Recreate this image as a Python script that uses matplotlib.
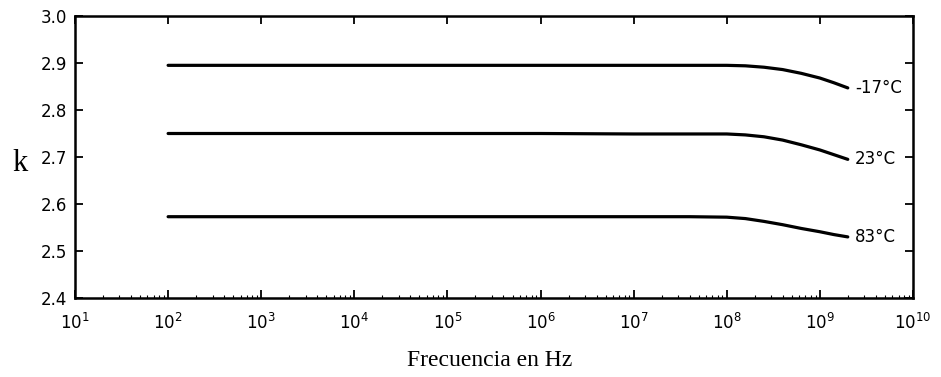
import numpy as np
import matplotlib
matplotlib.use("Agg")
import matplotlib.pyplot as plt
import matplotlib.ticker as ticker

# constante dielectrica k frente a frecuencia, tres temperaturas
log_f = [2, 3, 4, 5, 6, 7, 7.6, 8.0, 8.2, 8.4, 8.6, 8.8, 9.0, 9.15, 9.3]
k_m17 = [2.895, 2.895, 2.895, 2.895, 2.895, 2.895, 2.895, 2.895, 2.894, 2.891, 2.886, 2.878, 2.868, 2.858, 2.847]
k_23 = [2.750, 2.750, 2.750, 2.750, 2.750, 2.749, 2.749, 2.749, 2.747, 2.743, 2.736, 2.726, 2.715, 2.705, 2.695]
k_83 = [2.573, 2.573, 2.573, 2.573, 2.573, 2.573, 2.573, 2.572, 2.569, 2.563, 2.556, 2.548, 2.541, 2.535, 2.530]
labels = ["-17°C", "23°C", "83°C"]

freq = 10.0 ** np.array(log_f)

plt.rcParams['mathtext.default'] = 'regular'
fig = plt.figure(figsize=(9.41, 3.77), dpi=100)
ax = fig.add_axes([0.0797, 0.2095, 0.8905, 0.7481])

for yy, lab in zip([k_m17, k_23, k_83], labels):
    ax.plot(freq, yy, color='black', lw=2.3, solid_capstyle='round', solid_joinstyle='round')
    ax.text(freq[-1] * 1.2, yy[-1], lab, fontsize=12, family='DejaVu Sans',
            va='center', ha='left')

ax.set_xscale('log')
ax.set_xlim(1e1, 1e10)
ax.set_ylim(2.4, 3.0)
ax.set_yticks(np.arange(2.4, 3.01, 0.1))
ax.yaxis.set_major_formatter(ticker.FormatStrFormatter('%.1f'))
ax.xaxis.set_major_locator(ticker.FixedLocator([10.0 ** e for e in range(1, 11)]))
ax.xaxis.set_major_formatter(ticker.LogFormatterMathtext())
minors = [m * 10.0 ** e for e in range(1, 10) for m in range(2, 10)]
ax.xaxis.set_minor_locator(ticker.FixedLocator(minors))
ax.xaxis.set_minor_formatter(ticker.NullFormatter())

ax.tick_params(axis='both', which='major', direction='in', length=6, width=1.3,
               top=True, right=True, labelsize=12, pad=6)
ax.tick_params(axis='x', which='major', pad=11)
ax.tick_params(axis='x', which='minor', direction='in', length=2, width=0.8, top=False)
for s in ax.spines.values():
    s.set_linewidth(1.8)

fig.text(0.021, 0.567, "k", fontsize=22, family='Liberation Serif', va='center', ha='center')
fig.text(0.52, 0.045, "Frecuencia en Hz", fontsize=17, family='Liberation Serif',
         va='center', ha='center')

plt.savefig("out.png")
